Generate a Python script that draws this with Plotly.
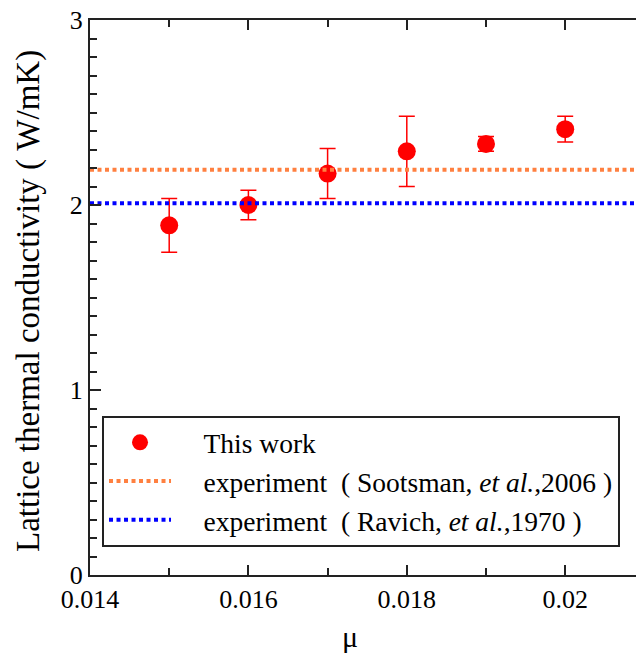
import plotly.graph_objects as go

mu = [0.015, 0.016, 0.017, 0.018, 0.019, 0.020]
kappa = [1.89, 2.00, 2.17, 2.29, 2.33, 2.41]
kappa_err = [0.145, 0.08, 0.135, 0.19, 0.04, 0.07]

line_x = [0.014, 0.021]
sootsman = [2.19, 2.19]
ravich = [2.01, 2.01]

FONT = "Liberation Serif"
PAD = "\u00a0" * 4

fig = go.Figure()
fig.add_trace(go.Scatter(
    x=mu, y=kappa, mode="markers", name=PAD + "This work",
    marker=dict(color="#FF0000", size=18),
    error_y=dict(type="data", array=kappa_err, color="#FF0000", thickness=1.5, width=8),
    legendgroup="a",
))
fig.add_trace(go.Scatter(
    x=line_x, y=sootsman, mode="lines",
    name=PAD + "experiment\u00a0\u00a0( Sootsman, <i>et al.</i>,2006 )",
    line=dict(color="#FF8040", width=4, dash="4px,3.5px"),
    legendgroup="b",
))
fig.add_trace(go.Scatter(
    x=line_x, y=ravich, mode="lines",
    name=PAD + "experiment\u00a0\u00a0( Ravich, <i>et al.</i>,1970 )",
    line=dict(color="#0000FF", width=4, dash="4px,3.5px"),
    legendgroup="c",
))

fig.update_layout(
    width=636, height=654,
    margin=dict(l=90, r=0, t=20, b=79),
    paper_bgcolor="white", plot_bgcolor="white",
    font=dict(family=FONT, size=26, color="black"),
    showlegend=True,
    legend=dict(
        x=0.022, y=0.2865, xanchor="left", yanchor="top",
        bordercolor="#222", borderwidth=2, bgcolor="white",
        font=dict(family=FONT, size=27.5),
        itemwidth=62, tracegroupgap=5,
        traceorder="normal",
    ),
    annotations=[
        dict(
            text="μ", xref="paper", yref="paper", x=0.476, y=-0.11,
            xanchor="center", yanchor="middle", showarrow=False,
            font=dict(family=FONT, size=30),
        ),
        dict(
            text="Lattice thermal conductivity (\u00a0W/mK)", xref="paper", yref="paper",
            x=-0.1117, y=0.4937, xanchor="center", yanchor="middle", textangle=-90,
            showarrow=False, font=dict(family=FONT, size=33),
        ),
    ],
)
fig.update_xaxes(
    range=[0.014, 0.020894],
    tickvals=[0.014, 0.016, 0.018, 0.020],
    ticktext=["0.014", "0.016", "0.018", "0.02"],
    ticks="inside", ticklen=10, tickwidth=1.5, tickcolor="#222",
    minor=dict(dtick=0.001, tick0=0.014, ticks="inside", ticklen=7, tickwidth=1.5, tickcolor="#222"),
    showline=True, linecolor="#222", linewidth=2, mirror="ticks",
    showgrid=False, zeroline=False,
    tickfont=dict(family=FONT, size=26),
)
fig.update_yaxes(
    range=[0, 3],
    tickvals=[0, 1, 2, 3],
    ticks="inside", ticklen=11, tickwidth=1.5, tickcolor="#222",
    minor=dict(dtick=0.1, tick0=0, ticks="inside", ticklen=7, tickwidth=1.5, tickcolor="#222"),
    showline=True, linecolor="#222", linewidth=2, mirror=False,
    showgrid=False, zeroline=False,
    tickfont=dict(family=FONT, size=26),
)

fig.write_html("out.html")
